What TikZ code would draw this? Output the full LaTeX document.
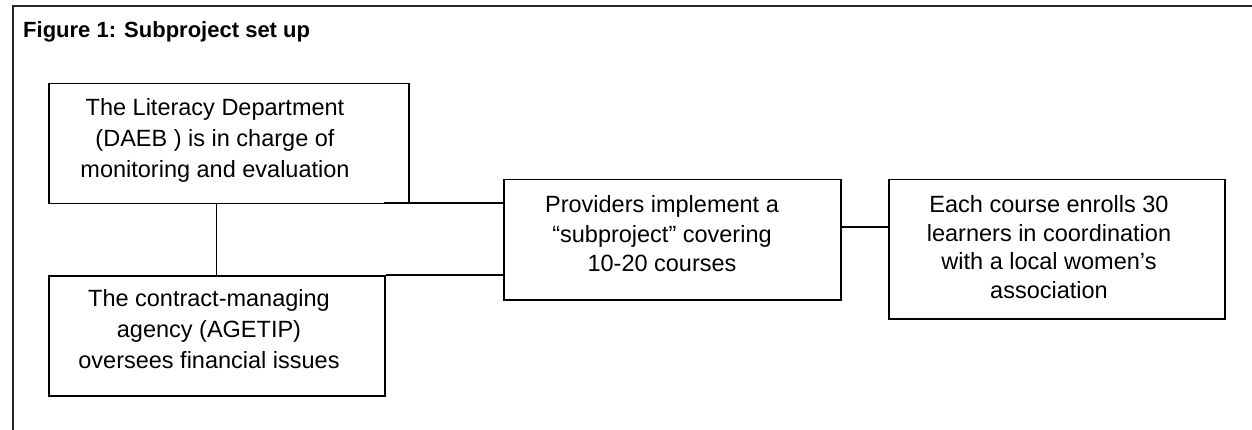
\documentclass[tikz,border=0pt]{standalone}
\usepackage{fontspec}
\setmainfont{Liberation Sans}
\begin{document}
\begin{tikzpicture}[x=1pt,y=-1pt,
  frame/.style={line width=2.4pt,draw=black!85},
  box/.style={draw=black,line width=1.5pt,inner sep=0pt,anchor=north west},
  link/.style={draw=black,line width=1.3pt},
  btext/.style={align=center,inner sep=0pt,anchor=center,font=\fontsize{23.5}{31}\selectfont},
  ttl/.style={inner sep=0pt,anchor=base west,font=\fontsize{22}{26}\selectfont\bfseries}]
\useasboundingbox (0,0) rectangle (1252,430);
\draw[frame] (13,430) -- (13,6) -- (1252,6);
\node[ttl] (title) at (23,38) {Figure 1: Subproject set up};
% boxes
\node[box,minimum width=360pt,minimum height=120pt] (b1) at (48,83) {};
\node[box,minimum width=336pt,minimum height=120pt] (b2) at (48,275) {};
\node[box,minimum width=337pt,minimum height=120pt] (p) at (503,179) {};
\node[box,minimum width=336pt,minimum height=139pt] (e) at (888,179) {};
% texts
\node[btext] (t1) at (215,140) {The Literacy Department\\(DAEB ) is in charge of\\monitoring and evaluation};
\node[btext] (t2) at (209,329) {The contract-managing\\agency (AGETIP)\\oversees financial issues};
\node[btext,font=\fontsize{23.5}{29.5}\selectfont] (t3) at (662,234) {Providers implement a\\\char"201C subproject\char"201D\ covering\\10-20 courses};
\node[btext,font=\fontsize{23.5}{28.7}\selectfont] (t4) at (1049,247) {Each course enrolls 30\\learners in coordination\\with a local women\char"2019 s\\association};
% connectors
\coordinate (c1) at (384,203);
\coordinate (c2) at (0,227);
\draw[link] (b2.north) -- (b2.north |- b1.south);
\draw[link] (c1) -- (p.west |- c1);
\draw[link] (b2.north east) -- (p.west |- b2.north);
\draw[link] (p.east |- c2) -- (e.west |- c2);
\end{tikzpicture}
\end{document}
